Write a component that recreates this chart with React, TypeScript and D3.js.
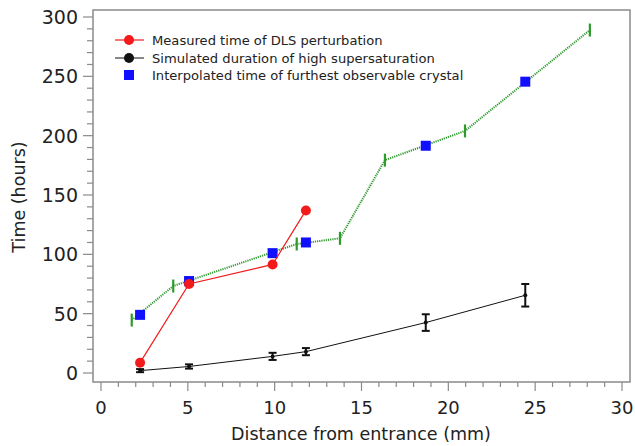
import React, { useEffect, useRef } from "react";
import * as d3 from "d3";

// distances (mm) shared by the measured / simulated / interpolated series
const positions = [2.25, 5.07, 9.88, 11.8];
const measuredDLS = [8.7, 75, 91.5, 137];

const simX = [2.25, 5.07, 9.88, 11.8, 18.7, 24.43];
const simY = [2, 5.5, 14, 18, 42.5, 65.5];
const simErr = [1.3, 1.8, 3, 3, 7, 9.5];

const interpX = [2.25, 5.07, 9.88, 11.8, 18.7, 24.43];
const interpY = [49, 77.5, 101, 110, 191.5, 245.5];

// observed furthest crystal (green dotted line with bar markers)
const obsX = [1.77, 4.16, 11.27, 13.76, 16.35, 20.96, 28.15];
const obsY = [44.6, 73.3, 108.7, 113.5, 179.4, 204, 289];

const xTicks = [0, 5, 10, 15, 20, 25, 30];
const yTicks = [0, 50, 100, 150, 200, 250, 300];

const legendLabels = [
  "Measured time of DLS perturbation",
  "Simulated duration of high supersaturation",
  "Interpolated time of furthest observable crystal",
];

const FONT = "'DejaVu Sans', sans-serif";

function App() {
  const ref = useRef<SVGSVGElement>(null);

  useEffect(() => {
    const svg = d3.select(ref.current);
    svg.selectAll("*").remove();

    const left = 93,
      top = 10,
      right = 630,
      bottom = 382;

    const x = d3.scaleLinear().domain([0, 30]).range([101, 622]);
    const y = d3.scaleLinear().domain([0, 300]).range([373, 17]);
    const grey = "#8a8a8a";

    // frame
    svg
      .append("rect")
      .attr("x", left)
      .attr("y", top)
      .attr("width", right - left)
      .attr("height", bottom - top)
      .attr("fill", "none")
      .attr("stroke", grey)
      .attr("stroke-width", 1.5);

    // x axis ticks
    const gx = svg.append("g");
    gx.selectAll("line.minor")
      .data(d3.range(0, 31, 1))
      .enter()
      .append("line")
      .attr("x1", (d) => x(d))
      .attr("x2", (d) => x(d))
      .attr("y1", bottom)
      .attr("y2", (d) => (d % 5 === 0 ? bottom + 9 : bottom + 5))
      .attr("stroke", grey)
      .attr("stroke-width", 1.2);
    gx.selectAll("text")
      .data(xTicks)
      .enter()
      .append("text")
      .attr("x", (d) => x(d))
      .attr("y", 414)
      .attr("text-anchor", "middle")
      .attr("font-family", FONT)
      .attr("font-size", 18)
      .attr("fill", "#222")
      .text((d) => d);

    // y axis ticks
    const gy = svg.append("g");
    gy.selectAll("line")
      .data(d3.range(0, 301, 10))
      .enter()
      .append("line")
      .attr("y1", (d) => y(d))
      .attr("y2", (d) => y(d))
      .attr("x1", left)
      .attr("x2", (d) => (d % 50 === 0 ? left - 10 : left - 6))
      .attr("stroke", grey)
      .attr("stroke-width", 1.2);
    gy.selectAll("text")
      .data(yTicks)
      .enter()
      .append("text")
      .attr("x", 78)
      .attr("y", (d) => y(d) + 7)
      .attr("text-anchor", "end")
      .attr("font-family", FONT)
      .attr("font-size", 19)
      .attr("fill", "#222")
      .text((d) => d);

    // axis titles
    svg
      .append("text")
      .attr("x", 361)
      .attr("y", 440)
      .attr("text-anchor", "middle")
      .attr("font-family", FONT)
      .attr("font-size", 17.5)
      .attr("fill", "#222")
      .text("Distance from entrance (mm)");
    svg
      .append("text")
      .attr("transform", "translate(25,197) rotate(-90)")
      .attr("text-anchor", "middle")
      .attr("font-family", FONT)
      .attr("font-size", 17.5)
      .attr("fill", "#222")
      .text("Time (hours)");

    const line = d3
      .line<[number, number]>()
      .x((d) => x(d[0]))
      .y((d) => y(d[1]));

    // green observed line
    const green = "#2e9a2e";
    const obs = obsX.map((v, i) => [v, obsY[i]] as [number, number]);
    svg
      .append("path")
      .attr("d", line(obs))
      .attr("fill", "none")
      .attr("stroke", green)
      .attr("stroke-width", 2)
      .attr("stroke-dasharray", "1.2,1");
    svg
      .append("g")
      .selectAll("line")
      .data(obs)
      .enter()
      .append("line")
      .attr("x1", (d) => x(d[0]))
      .attr("x2", (d) => x(d[0]))
      .attr("y1", (d) => y(d[1]) - 6.5)
      .attr("y2", (d) => y(d[1]) + 6.5)
      .attr("stroke", green)
      .attr("stroke-width", 2.2);

    // black simulated line with error bars
    const sim = simX.map((v, i) => [v, simY[i]] as [number, number]);
    svg
      .append("path")
      .attr("d", line(sim))
      .attr("fill", "none")
      .attr("stroke", "#111")
      .attr("stroke-width", 1);
    const eb = svg.append("g").attr("stroke", "#111").attr("stroke-width", 2);
    simX.forEach((v, i) => {
      const cx = x(v);
      const y1 = y(simY[i] + simErr[i]);
      const y2 = y(simY[i] - simErr[i]);
      eb.append("line").attr("x1", cx).attr("x2", cx).attr("y1", y1).attr("y2", y2);
      eb.append("line").attr("x1", cx - 4).attr("x2", cx + 4).attr("y1", y1).attr("y2", y1);
      eb.append("line").attr("x1", cx - 4).attr("x2", cx + 4).attr("y1", y2).attr("y2", y2);
    });
    svg
      .append("g")
      .selectAll("circle")
      .data(sim)
      .enter()
      .append("circle")
      .attr("cx", (d) => x(d[0]))
      .attr("cy", (d) => y(d[1]))
      .attr("r", 2)
      .attr("fill", "#111");

    // blue interpolated squares
    svg
      .append("g")
      .selectAll("rect")
      .data(interpX.map((v, i) => [v, interpY[i]]))
      .enter()
      .append("rect")
      .attr("x", (d) => x(d[0]) - 5)
      .attr("y", (d) => y(d[1]) - 5)
      .attr("width", 10)
      .attr("height", 10)
      .attr("fill", "#1010ff");

    // red measured line
    const red = "#f21a1a";
    const meas = positions.map((v, i) => [v, measuredDLS[i]] as [number, number]);
    svg
      .append("path")
      .attr("d", line(meas))
      .attr("fill", "none")
      .attr("stroke", red)
      .attr("stroke-width", 1.2);
    svg
      .append("g")
      .selectAll("circle")
      .data(meas)
      .enter()
      .append("circle")
      .attr("cx", (d) => x(d[0]))
      .attr("cy", (d) => y(d[1]))
      .attr("r", 5)
      .attr("fill", red);

    // legend
    const lg = svg.append("g");
    const rows = [40, 58, 75];
    lg.append("line")
      .attr("x1", 115).attr("x2", 144).attr("y1", rows[0]).attr("y2", rows[0])
      .attr("stroke", red).attr("stroke-width", 1.2);
    lg.append("circle").attr("cx", 129).attr("cy", rows[0]).attr("r", 5).attr("fill", red);
    lg.append("line")
      .attr("x1", 115).attr("x2", 144).attr("y1", rows[1]).attr("y2", rows[1])
      .attr("stroke", "#111").attr("stroke-width", 1);
    lg.append("circle").attr("cx", 129).attr("cy", rows[1]).attr("r", 5).attr("fill", "#111");
    lg.append("rect")
      .attr("x", 124).attr("y", rows[2] - 5).attr("width", 10).attr("height", 10)
      .attr("fill", "#1010ff");
    lg.selectAll("text")
      .data(legendLabels)
      .enter()
      .append("text")
      .attr("x", 152)
      .attr("y", (d, i) => rows[i] + 5)
      .attr("font-family", FONT)
      .attr("font-size", 13.1)
      .attr("fill", "#222")
      .text((d) => d);
  }, []);

  return (
    <svg
      ref={ref}
      width={635}
      height={446}
      style={{ position: "absolute", left: 0, top: 0, background: "#fff" }}
    />
  );
}

export default App;
